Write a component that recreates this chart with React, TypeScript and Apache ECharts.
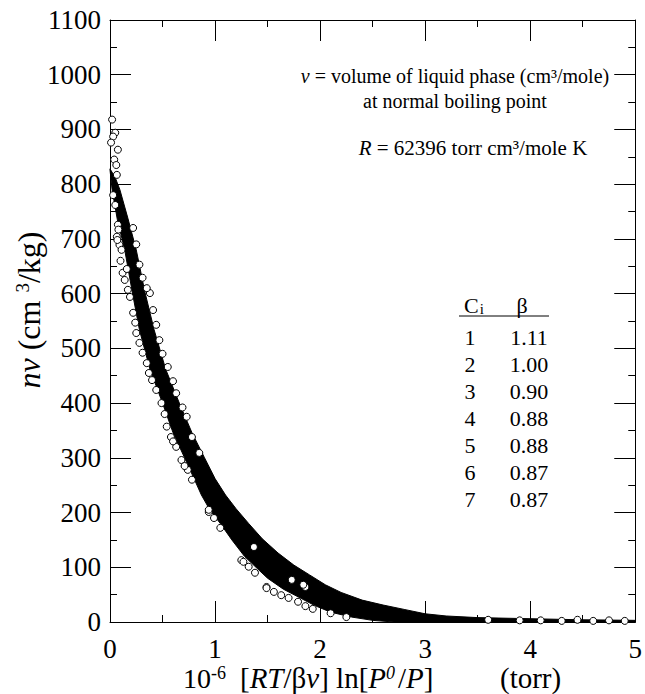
import React, { useEffect, useRef } from "react";
import * as echarts from "echarts";

// Outer (upper/right) edge of the dense band of overlapping data circles
const bandOuter: [number, number][] = [
  [0.0, 828], [0.05, 812], [0.094, 790], [0.17, 738], [0.25, 680], [0.33, 605],
  [0.42, 534], [0.53, 462], [0.66, 400], [0.78, 346], [0.9, 300], [1.0, 262],
  [1.1, 232], [1.2, 207], [1.32, 180], [1.45, 152], [1.6, 126], [1.75, 104],
  [1.9, 86], [2.05, 68], [2.2, 54], [2.4, 40], [2.6, 31], [2.8, 23], [3.0, 15],
  [3.2, 11], [3.5, 8], [4.0, 6], [4.5, 4], [5.0, 3],
];
// Inner (lower/left) edge of the band
const bandInner: [number, number][] = [
  [0.0, 826], [0.02, 790], [0.07, 735], [0.14, 680], [0.21, 605], [0.28, 534],
  [0.38, 462], [0.5, 400], [0.6, 346], [0.71, 300], [0.8, 262], [0.87, 232],
  [0.95, 205], [1.05, 180], [1.16, 150], [1.28, 120], [1.4, 98], [1.5, 80],
  [1.65, 60], [1.79, 46], [1.95, 30], [2.1, 18], [2.3, 9], [2.5, 3], [2.7, 0],
  [5.0, 0],
];
// Individually visible open circles around the band
const scatterPoints: [number, number][] = [
  [0.02, 918], [0.05, 894], [0.03, 887], [0.01, 876], [0.075, 863], [0.04, 845],
  [0.06, 835], [0.065, 817], [0.03, 780], [0.05, 762], [0.075, 726], [0.065, 704],
  [0.09, 689], [0.08, 717], [0.07, 698], [0.11, 680], [0.12, 638], [0.14, 625],
  [0.17, 607], [0.19, 594], [0.22, 565], [0.24, 547], [0.1, 660], [0.16, 645],
  [0.22, 720], [0.25, 690], [0.28, 653], [0.31, 629], [0.38, 601], [0.41, 570],
  [0.44, 543], [0.47, 515], [0.55, 466], [0.63, 418], [0.73, 375], [0.78, 338],
  [0.85, 309], [0.35, 610], [0.5, 490], [0.6, 440], [0.69, 392],
  [0.25, 528], [0.31, 492], [0.35, 473], [0.4, 442], [0.44, 424], [0.49, 400],
  [0.54, 357], [0.58, 338], [0.63, 320], [0.68, 296], [0.74, 278], [0.78, 260],
  [0.28, 510], [0.37, 455], [0.52, 380], [0.6, 330], [0.71, 285],
  [0.94, 201], [0.99, 190], [1.05, 172], [1.25, 113], [1.32, 101], [1.38, 90],
  [1.49, 64], [1.56, 55], [1.63, 49], [1.7, 44], [1.79, 37], [1.86, 29],
  [1.93, 24], [0.94, 205], [1.27, 110], [1.49, 62],
  [1.37, 137], [1.73, 77], [1.86, 64], [1.84, 68],
  [2.1, 16], [2.25, 9], [3.6, 4], [3.9, 3], [4.1, 3], [4.3, 2], [4.45, 4],
  [4.6, 2], [4.75, 3], [4.9, 2],
];

const compounds = ["1", "2", "3", "4", "5", "6", "7"];
const betas = ["1.11", "1.00", "0.90", "0.88", "0.88", "0.87", "0.87"];

const X_MIN = 0, X_MAX = 5, X_INT = 1;
const Y_MIN = 0, Y_MAX = 1100, Y_INT = 100;

const FONT = "Liberation Serif";

function makeAxis(kind: "x" | "y", pos: string, showLabel: boolean) {
  return {
    type: "value",
    position: pos,
    min: kind === "x" ? X_MIN : Y_MIN,
    max: kind === "x" ? X_MAX : Y_MAX,
    interval: kind === "x" ? X_INT : Y_INT,
    axisLine: { show: true, onZero: false, lineStyle: { color: "#000", width: 1 } },
    axisTick: { show: true, inside: true, length: 21, lineStyle: { color: "#000", width: 1 } },
    minorTick: { show: true, splitNumber: 2, length: 7, lineStyle: { color: "#000", width: 1 } },
    splitLine: { show: false },
    minorSplitLine: { show: false },
    axisLabel: {
      show: showLabel,
      fontFamily: FONT,
      fontSize: 27,
      color: "#000",
      margin: kind === "x" ? 13 : 9,
      formatter: (v: number) => String(v),
    },
  };
}

function txt(x: number, y: number, text: string, size: number, align: string, extra: any = {}) {
  return {
    type: "text",
    x,
    y,
    ...extra.el,
    style: {
      text,
      fontFamily: FONT,
      fontSize: size,
      fill: "#000",
      align,
      verticalAlign: "middle",
      textAlign: align,
      textVerticalAlign: "middle",
      ...(extra.rich ? { rich: extra.rich } : {}),
    },
  };
}

export default function App() {
  const ref = useRef<HTMLDivElement>(null);
  useEffect(() => {
    if (!ref.current) return;
    const chart = echarts.init(ref.current, undefined, { renderer: "svg" });
    const rowY = [337, 364, 391, 418, 445, 472, 499];
    const tableTexts: any[] = [];
    compounds.forEach((c, i) => {
      tableTexts.push(txt(470, rowY[i], c, 22, "center"));
      tableTexts.push(txt(529, rowY[i], betas[i], 22, "center"));
    });
    const it = (s: number) => ({ fontStyle: "italic", fontFamily: FONT, fontSize: s });

    chart.setOption({
      animation: false,
      backgroundColor: "#fff",
      textStyle: { fontFamily: FONT },
      grid: { left: 110, right: 5, top: 20, bottom: 72, containLabel: false },
      xAxis: [makeAxis("x", "bottom", true), makeAxis("x", "top", false)],
      yAxis: [makeAxis("y", "left", true), makeAxis("y", "right", false)],
      series: [
        {
          type: "custom",
          coordinateSystem: "cartesian2d",
          xAxisIndex: 0,
          yAxisIndex: 0,
          data: [[0, 0]],
          encode: { x: 0, y: 1 },
          z: 2,
          renderItem: (params: any, api: any) => {
            const pts = bandOuter
              .map((p) => api.coord(p))
              .concat(bandInner.slice().reverse().map((p) => api.coord(p)));
            return { type: "polygon", shape: { points: pts }, style: { fill: "#000", stroke: "#000", lineWidth: 1 } };
          },
        },
        {
          type: "scatter",
          xAxisIndex: 0,
          yAxisIndex: 0,
          data: scatterPoints,
          symbol: "circle",
          symbolSize: 7,
          z: 3,
          itemStyle: { color: "#fff", borderColor: "#000", borderWidth: 1, opacity: 1 },
        },
      ],
      graphic: [
        txt(455, 76, "{i|v} = volume of liquid phase (cm³/mole)", 20, "center", { rich: { i: it(20) } }),
        txt(455, 101, "at normal boiling point", 20, "center"),
        txt(473, 148, "{i|R} = 62396 torr cm³/mole K", 21, "center", { rich: { i: it(21) } }),
        txt(464, 305, "C{sub|i}", 22, "left", {
          rich: { sub: { fontFamily: FONT, fontSize: 15, verticalAlign: "bottom", padding: [0, 0, 0, 1] } },
        }),
        txt(522, 305, "β", 22, "center"),
        { type: "line", shape: { x1: 459, y1: 316, x2: 549, y2: 316 }, style: { stroke: "#000", lineWidth: 1 } },
        ...tableTexts,
        txt(29, 310, "{i|nv} (cm {s|3}/kg)", 32, "center", {
          el: { rotation: Math.PI / 2 },
          rich: { i: it(32), s: { fontFamily: FONT, fontSize: 19, verticalAlign: "top" } },
        }),
        txt(183, 678, "10{s|-6}", 28, "left", {
          rich: { s: { fontFamily: FONT, fontSize: 18, verticalAlign: "top" } },
        }),
        txt(240, 678, "[{i|RT}/β{i|v}] ln[{i|P}{s|0}/{i|P}]", 29, "left", {
          rich: {
            i: it(29),
            s: { fontStyle: "italic", fontFamily: FONT, fontSize: 18, verticalAlign: "top", padding: [0, 3, 0, 0] },
          },
        }),
        txt(500, 678, "(torr)", 29, "left"),
      ],
    });
    return () => chart.dispose();
  }, []);
  return <div ref={ref} style={{ width: 645, height: 694, position: "absolute", left: 0, top: 0 }} />;
}
